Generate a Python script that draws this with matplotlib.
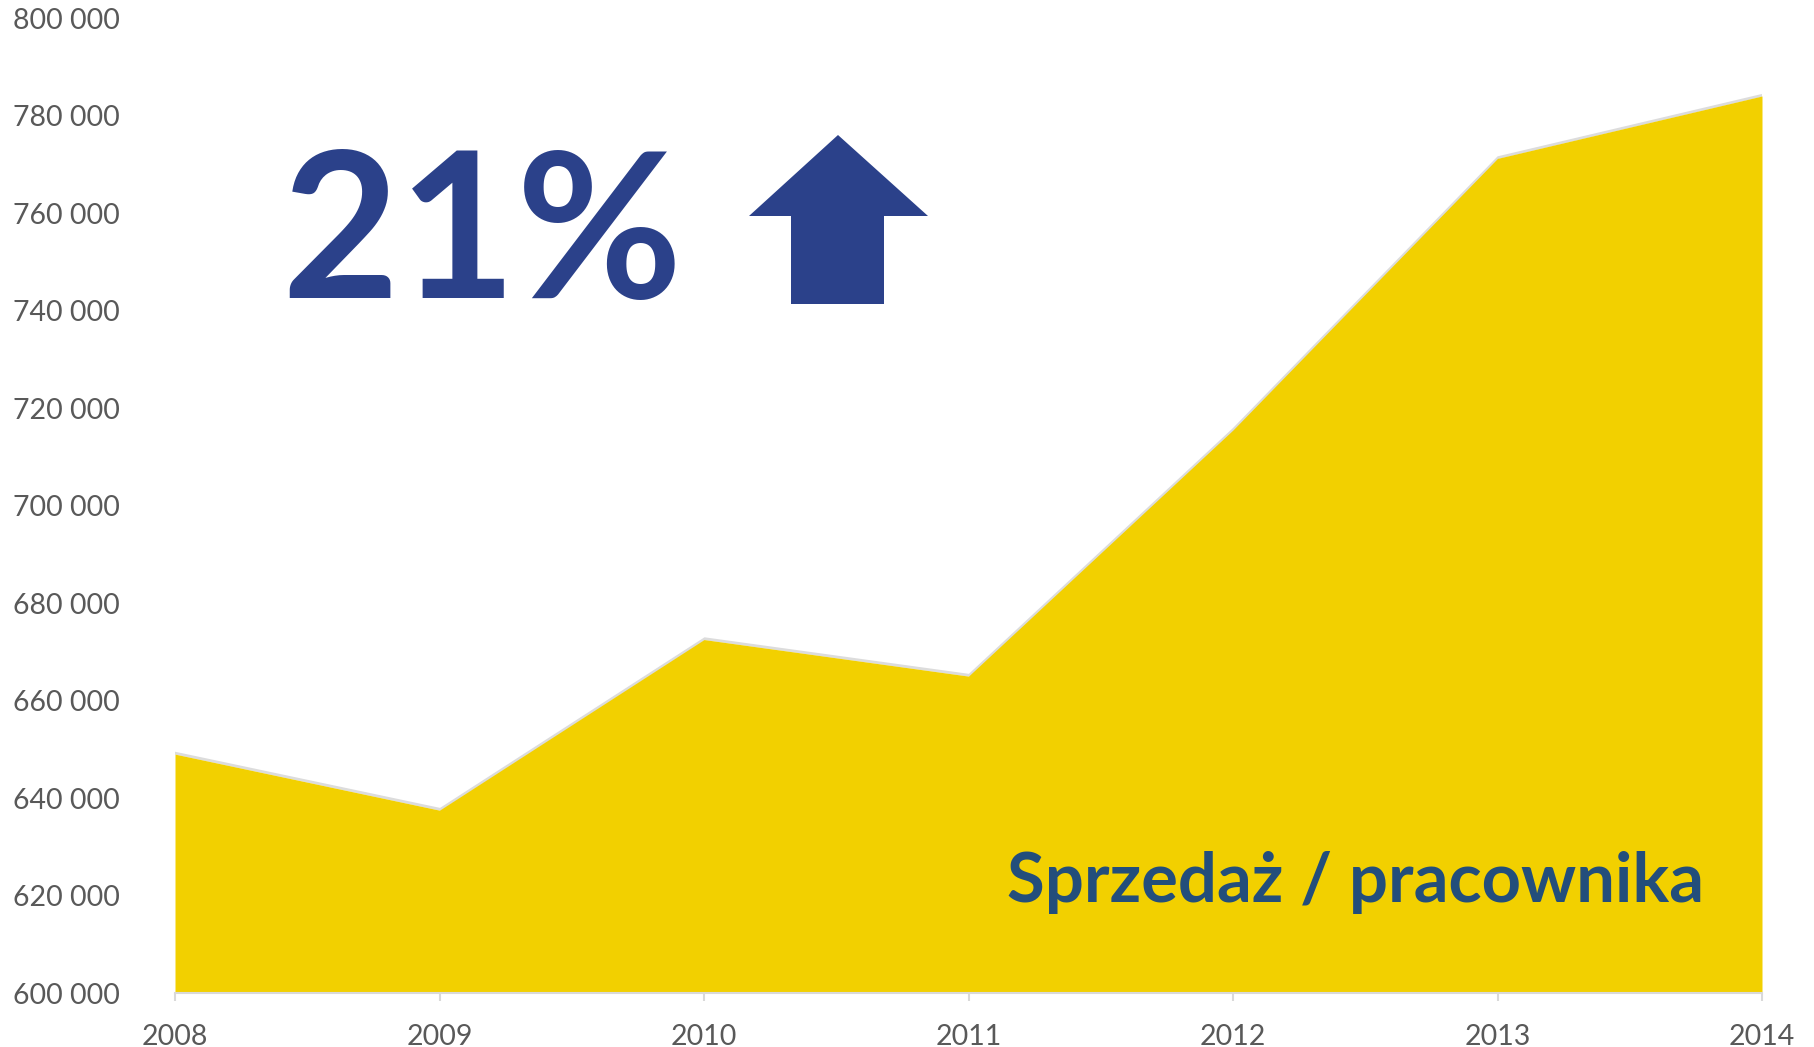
import matplotlib
matplotlib.use("Agg")
import matplotlib.pyplot as plt
from matplotlib.patches import Polygon
from matplotlib.ticker import FuncFormatter
import matplotlib.transforms as mtransforms

years = [2008, 2009, 2010, 2011, 2012, 2013, 2014]
sales_per_employee = [649000, 637500, 672500, 665000, 715500, 771200, 784000]
y_ticks = [600000, 620000, 640000, 660000, 680000, 700000, 720000, 740000, 760000, 780000, 800000]
growth_label = "21%"
series_label = "Sprzedaż / pracownika"

W, H = 1814, 1047
fig = plt.figure(figsize=(W / 100, H / 100), dpi=100)
plt.rcParams['font.family'] = ['Lato', 'DejaVu Sans']

ax = fig.add_axes([175 / W, 1 - 993 / H, (1762 - 175) / W, (993 - 18) / H])
ax.set_xlim(years[0], years[-1])
ax.set_ylim(600000, 800000)

yellow = '#F2D000'
# soft shadow along the edge
off = mtransforms.offset_copy(ax.transData, fig=fig, x=0.6, y=0.6, units='points')
ax.plot(years, sales_per_employee, color='#dcdcdc', lw=2.0, transform=off, zorder=1,
        solid_joinstyle='miter')
ax.fill_between(years, sales_per_employee, 600000, color=yellow, lw=0, zorder=2)
ax.vlines(years[-1], 600000, sales_per_employee[-1], color='#c8c8c8', lw=1.5, zorder=1.5,
          transform=mtransforms.offset_copy(ax.transData, fig=fig, x=1.0, y=0, units='points'))

for s in ['top', 'right', 'left']:
    ax.spines[s].set_visible(False)
ax.spines['bottom'].set_color('#D9D9D9')
ax.spines['bottom'].set_linewidth(1.5)
ax.spines['bottom'].set_zorder(3)

ax.set_xticks(years)
ax.set_xticklabels([str(y) for y in years])
ax.set_yticks(y_ticks)
ax.yaxis.set_major_formatter(FuncFormatter(lambda v, p: f"{int(v):,}".replace(",", " ")))
ax.tick_params(axis='x', length=6, width=1.5, color='#D9D9D9', pad=16,
               labelsize=20.5, labelcolor='#595959')
ax.tick_params(axis='y', length=0, pad=116.6, labelsize=20.5, labelcolor='#595959')
for lab in ax.get_yticklabels():
    lab.set_horizontalalignment('left')

navy = '#2B418A'
fig.text(281 / W, 1 - 298 / H, growth_label, fontsize=146, fontweight='bold',
         color=navy, ha='left', va='baseline')

# arrow
pts_px = [(838, 135), (928, 216), (884, 216), (884, 304), (791, 304), (791, 216), (749, 216)]
pts = [(x / W, 1 - y / H) for x, y in pts_px]
fig.add_artist(Polygon(pts, closed=True, transform=fig.transFigure, color=navy, lw=0))

fig.text(1704 / W, 1 - 902 / H, series_label, fontsize=49.5, fontweight='bold',
         color='#234E7B', ha='right', va='baseline')

fig.savefig('out.png', dpi=100, facecolor='white')
